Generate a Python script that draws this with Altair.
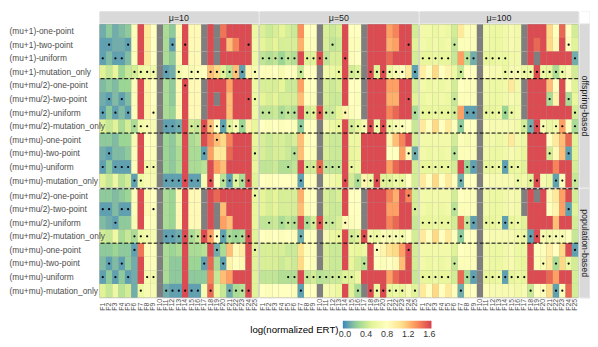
import altair as alt
import pandas as pd
import numpy as np

N = None
funcs = [f"F{i}" for i in range(1, 26)]
mu_labels = ["μ=10", "μ=50", "μ=100"]
facet_labels = ["offspring-based", "population-based"]
offspring_algs = [
    "(mu+1)-one-point", "(mu+1)-two-point", "(mu+1)-uniform", "(mu+1)-mutation_only",
    "(mu+mu/2)-one-point", "(mu+mu/2)-two-point", "(mu+mu/2)-uniform", "(mu+mu/2)-mutation_only",
    "(mu+mu)-one-point", "(mu+mu)-two-point", "(mu+mu)-uniform", "(mu+mu)-mutation_only",
]
population_algs = [
    "(mu+mu/2)-one-point", "(mu+mu/2)-two-point", "(mu+mu/2)-uniform", "(mu+mu/2)-mutation_only",
    "(mu+mu)-one-point", "(mu+mu)-two-point", "(mu+mu)-uniform", "(mu+mu)-mutation_only",
]

# log(normalized ERT); rows = offspring (12) then population (8); columns F1..F25; None = missing
ert_mu10 = [
    [0.1,0.2,0.1,0.15,0.2, 0.75,1.6,1.0,0.8,N, 0.3,0.2,0.85,1.6,0.85, 0.85,N,1.6,N,1.45, 1.6,1.6,1.6,1.6,0.6],
    [0.05,0.05,0.1,0.1,0.05, 0.75,1.6,1.0,0.8,N, 0.3,0.05,0.85,1.6,0.85, 0.85,N,1.6,N,1.6, 1.2,1.4,1.6,1.6,0.65],
    [0.05,0.15,0.05,0.05,0.15, 0.75,1.6,1.0,0.8,N, 0.3,0.2,0.85,1.6,0.85, 0.85,N,1.6,N,1.6, 1.6,1.6,1.6,1.6,0.6],
    [0.5,0.4,0.55,0.25,0.4, 0.45,0.6,0.65,0.65,N, 0.05,0.1,0.65,0.75,0.7, 0.75,0.8,1.2,1.1,0.5, 0.35,1.2,0.05,0.9,0.7],
    [0.15,0.2,0.15,0.25,0.25, 0.75,1.6,0.9,0.8,N, 0.3,0.2,0.85,1.6,0.85, 0.85,N,1.6,1.6,1.6, 1.3,1.6,1.6,1.6,0.6],
    [0.1,0.05,0.15,0.05,0.15, 0.75,1.6,0.9,0.8,N, 0.3,0.2,0.85,1.6,0.85, 0.85,N,1.6,N,1.6, 1.2,1.6,1.6,1.6,0.6],
    [0.05,0.2,0.05,0.15,0.05, 0.75,1.6,0.9,0.75,N, 0.3,0.25,0.85,1.6,0.85, 0.85,N,1.6,1.6,1.6, 1.2,1.6,1.6,1.6,0.6],
    [0.5,0.4,0.5,0.3,0.45, 0.3,0.65,0.7,0.7,N, 0.05,0.05,0.1,1.6,0.45, 0.4,1.6,1.2,0.8,0.05, 0.5,0.7,0.25,0.9,0.55],
    [0.2,0.2,0.15,0.25,0.25, 0.7,1.6,0.8,0.75,N, 0.25,0.2,0.35,1.6,0.3, 0.35,1.6,1.4,1.2,1.1, 1.4,1.6,1.6,1.6,0.55],
    [0.1,0.05,0.15,0.15,0.2, 0.75,1.6,0.8,0.75,N, 0.25,0.2,0.3,1.6,0.3, 0.3,0.05,1.3,1.0,1.0, 1.5,1.6,1.6,1.6,0.5],
    [0.05,0.2,0.05,0.05,0.05, 0.75,1.6,0.65,0.65,N, 0.25,0.2,0.3,1.6,0.3, 0.3,0.35,1.6,1.3,1.2, 1.6,1.6,1.6,1.6,0.55],
    [0.5,0.4,0.6,0.35,0.45, 0.05,0.6,0.7,0.7,N, 0.05,0.05,0.05,1.6,0.05, 0.05,0.7,1.6,0.8,0.35, 0.05,0.5,0.3,1.6,0.5],
    [0.2,0.2,0.15,0.2,0.25, 0.75,1.6,0.85,0.8,N, 0.3,0.25,0.85,1.6,0.85, 0.85,N,1.6,1.5,1.6, 1.6,1.6,1.6,1.6,0.55],
    [0.05,0.05,0.15,0.05,0.05, 0.75,1.6,0.85,0.75,N, 0.3,0.25,0.85,1.6,0.85, 0.85,N,1.6,N,1.2, 1.6,1.6,1.6,1.6,0.55],
    [0.15,0.1,0.05,0.2,0.2, 0.7,1.6,0.8,0.75,N, 0.3,0.25,0.85,1.6,0.85, 0.85,N,1.6,N,1.3, 1.2,1.6,1.6,1.6,0.55],
    [0.45,0.4,0.6,0.3,0.4, 0.3,0.6,0.65,0.7,N, 0.05,0.05,0.1,1.6,0.3, 0.4,1.6,1.3,0.8,0.05, 0.3,0.25,0.3,1.6,0.5],
    [0.2,0.2,0.25,0.2,0.2, 0.05,1.45,0.75,0.75,N, 0.3,0.25,0.3,1.6,0.3, 0.3,0.35,1.6,0.1,0.3, 1.2,0.85,0.95,1.6,0.5],
    [0.15,0.05,0.15,0.05,0.2, 0.1,1.6,0.75,0.75,N, 0.3,0.2,0.2,1.6,0.25, 0.25,0.05,1.5,0.3,0.05, 0.9,0.8,0.85,1.6,0.5],
    [0.05,0.2,0.05,0.2,0.05, 0.1,1.6,0.7,0.65,N, 0.3,0.2,0.2,1.6,0.2, 0.2,0.2,1.4,0.4,1.2, 1.3,1.6,1.6,1.6,0.5],
    [0.5,0.4,0.6,0.35,0.45, 0.1,0.6,0.7,0.7,N, 0.1,0.05,0.05,1.6,0.05, 0.05,0.7,1.5,0.6,0.4, 0.1,0.3,0.35,1.6,0.5],
]
dots_mu10 = [
    [], [2,5,12,14,24], [1,3,4], [6,7,8,9,11,13,15,16,18,19,20,21,22,23,25],
    [14], [2,4,24,25], [1,3,5,9], [6,7,8,11,12,13,15,16,17,18,19,20,21,22,23],
    [19], [2,17,25], [1,3,4,5,8,9], [6,7,11,12,13,14,15,16,18,20,21,22,23,24],
    [25], [1,2,4,5,9], [3], [6,7,8,11,12,13,14,15,16,17,18,19,20,21,22,23,24],
    [6,19,25], [2,4,17,20], [1,3,5,8,9], [7,11,12,13,14,15,16,18,21,22,23,24],
]

ert_mu50 = [
    [0.48,0.42,0.47,0.52,0.46, 0.42,1.35,0.8,0.8,N, 0.47,0.42,0.47,1.6,0.8, 0.8,N,1.6,1.6,1.6, 1.3,1.4,1.6,1.6,0.45],
    [0.52,0.47,0.52,0.46,0.47, 0.46,1.25,0.75,0.75,N, 0.47,0.38,0.42,1.6,0.75, 0.75,N,1.6,1.6,1.6, 1.25,1.3,1.6,1.6,0.5],
    [0.38,0.33,0.38,0.25,0.38, 0.33,1.6,0.5,0.5,1.6, 0.38,0.47,0.47,1.6,0.75, 0.8,N,1.6,1.6,1.6, 1.5,1.6,1.6,1.6,0.45],
    [0.75,0.75,0.8,0.7,0.8, 0.75,0.4,0.8,0.8,N, 0.65,0.6,0.55,1.6,0.45, 0.5,N,1.6,0.5,1.6, 0.6,0.7,0.8,1.0,0.05],
    [0.47,0.47,0.47,0.52,0.42, 0.42,1.3,0.8,0.8,N, 0.47,0.42,0.47,1.6,0.8, 0.8,N,1.6,1.6,1.6, 1.3,1.3,1.6,1.6,0.45],
    [0.52,0.47,0.52,0.46,0.47, 0.46,1.2,0.8,0.75,N, 0.47,0.42,0.42,1.6,0.8, 0.75,N,1.6,1.6,1.6, 1.25,1.25,1.6,1.6,0.5],
    [0.38,0.38,0.42,0.3,0.38, 0.33,1.6,0.45,0.5,1.6, 0.42,0.42,0.52,0.9,0.75, 0.8,N,1.6,1.6,1.6, 1.4,1.5,1.6,1.6,0.3],
    [0.8,0.75,0.8,0.75,0.8, 0.75,0.2,0.8,0.8,N, 0.7,0.6,0.55,1.6,0.45, 0.55,0.7,1.6,0.65,1.6, 0.6,0.7,0.75,0.8,0.4],
    [0.47,0.42,0.47,0.47,0.42, 0.47,1.2,0.75,0.8,N, 0.47,0.42,0.42,1.6,0.6, 0.6,1.6,1.6,1.6,1.6, 0.9,1.2,1.4,1.6,0.45],
    [0.47,0.42,0.47,0.47,0.42, 0.33,1.2,0.8,0.75,N, 0.47,0.42,0.42,1.6,0.55, 0.6,1.6,1.6,1.6,1.6, 0.8,0.8,1.3,0.85,0.1],
    [0.38,0.38,0.42,0.33,0.33, 0.38,1.6,0.45,0.45,1.5, 0.38,0.38,0.38,1.6,0.55, 0.6,1.6,1.6,1.6,1.6, 1.3,1.5,1.6,1.6,0.45],
    [0.8,0.75,0.8,0.8,0.8, 0.75,0.05,0.8,0.8,N, 0.7,0.65,0.6,1.6,0.45, 0.3,0.9,0.6,1.6,0.5, 0.5,0.6,0.55,0.8,0.45],
    [0.52,0.47,0.52,0.46,0.47, 0.46,1.25,0.8,0.8,N, 0.47,0.42,0.47,1.6,0.8, 0.8,N,1.6,1.6,1.6, 1.4,1.25,1.6,1.4,0.45],
    [0.52,0.47,0.52,0.46,0.47, 0.46,1.2,0.75,0.8,N, 0.47,0.42,0.42,1.6,0.8, 0.8,N,1.6,1.6,1.6, 1.3,1.3,1.6,1.6,0.45],
    [0.38,0.38,0.42,0.3,0.38, 0.33,1.6,0.3,0.45,1.6, 0.42,0.42,0.47,0.85,0.75, 0.8,N,1.6,1.6,1.6, 1.4,1.5,1.6,1.6,0.4],
    [0.8,0.75,0.8,0.75,0.8, 0.75,0.1,0.8,0.8,N, 0.7,0.6,0.55,1.6,0.45, 0.5,1.6,0.65,0.6,0.75, 0.7,0.7,0.65,0.8,0.45],
    [0.47,0.47,0.47,0.47,0.42, 0.42,1.05,0.75,0.75,N, 0.47,0.42,0.42,1.6,0.6, 0.55,0.6,1.6,0.8,0.9, 1.05,1.1,1.3,1.6,0.45],
    [0.47,0.47,0.47,0.42,0.47, 0.42,1.1,0.8,0.75,N, 0.47,0.42,0.42,1.6,0.55, 0.45,0.35,1.6,0.8,0.75, 0.8,0.85,1.2,1.6,0.45],
    [0.38,0.38,0.38,0.33,0.33, 0.33,1.6,0.4,0.45,0.35, 0.38,0.42,0.42,0.5,0.5, 0.6,1.6,1.6,1.6,1.6, 1.3,1.5,1.6,1.6,0.4],
    [0.8,0.75,0.8,0.8,0.8, 0.75,0.05,0.8,0.8,N, 0.7,0.65,0.6,1.6,0.5, 0.3,N,1.6,0.6,1.6, 0.55,0.6,0.55,0.7,0.5],
]
dots_mu50 = [
    [], [12,24], [1,2,3,4,5,6,8,9,10,11,14], [7,13,15,16,18,19,20,21,22,23,25],
    [], [24], [1,2,4,5,6,8,9,10,11,12,14,25], [7,13,15,16,17,18,19,20,21,22,23],
    [], [6,24,25], [5,8,9,10,11,12,13,15], [7,14,16,17,18,19,20,21,22,23],
    [24], [25], [2,4,5,6,8,9,10,11,12,14], [7,13,15,16,17,18,19,20,21,22,23],
    [19,24], [17], [5,6,8,9,10,11,12,13,14,15], [7,16,18,19,20,21,22,23,25],
]

ert_mu100 = [
    [0.65,0.65,0.6,0.65,0.6, 0.45,1.0,0.75,0.75,N, 0.65,0.6,0.6,0.65,0.7, 0.65,N,1.6,1.6,1.6, 1.1,0.8,1.5,0.8,0.45],
    [0.65,0.6,0.65,0.6,0.65, 0.4,0.75,0.75,0.75,N, 0.65,0.6,0.6,0.65,0.7, 0.65,N,1.6,1.5,1.6, 1.1,0.85,1.6,0.75,0.5],
    [0.55,0.55,0.6,0.55,0.55, 0.4,1.3,0.35,0.1,N, 0.55,0.55,0.6,0.6,0.65, 0.65,N,1.6,N,1.6, 1.6,1.6,1.6,1.6,0.1],
    [0.95,0.8,1.1,0.8,0.9, 0.6,0.4,0.8,0.8,N, 0.75,0.7,0.7,0.6,0.7, 0.7,0.6,0.6,1.6,0.6, 0.55,0.3,0.6,0.7,0.45],
    [0.65,0.6,0.65,0.6,0.65, 0.45,0.8,0.75,0.75,N, 0.65,0.6,0.6,0.65,1.0, 0.65,N,1.6,1.6,1.6, 1.2,0.8,1.6,0.8,0.5],
    [0.6,0.65,0.6,0.65,0.6, 0.4,0.75,0.75,0.75,N, 0.65,0.6,0.6,0.65,0.7, 0.65,N,1.6,1.6,1.6, 0.3,0.9,1.6,0.3,0.55],
    [0.55,0.55,0.6,0.55,0.55, 0.45,1.3,0.05,0.05,N, 0.55,0.55,0.6,0.25,0.6, 0.65,N,1.6,1.6,1.6, 1.6,1.6,1.6,1.6,0.45],
    [1.0,0.8,1.1,0.8,1.0, 0.75,0.2,0.8,0.8,N, 0.75,0.7,0.7,0.7,0.7, 0.65,0.45,0.1,1.6,0.7, 0.6,0.65,1.3,0.8,0.3],
    [0.65,0.65,0.65,0.65,0.65, 0.45,0.75,0.7,0.75,N, 0.65,0.65,0.6,0.65,1.0, 0.65,0.6,1.6,1.6,1.6, 0.8,1.0,1.2,1.5,0.5],
    [0.65,0.6,0.65,0.6,0.65, 0.35,0.75,0.75,0.75,N, 0.65,0.6,0.6,0.65,0.7, 0.65,0.55,1.6,1.6,1.6, 0.45,0.85,1.2,0.05,0.5],
    [0.55,0.55,0.6,0.55,0.55, 0.45,1.6,0.25,0.05,N, 0.55,0.55,0.6,0.05,0.55, 0.6,0.5,1.6,1.6,1.6, 1.6,1.4,1.6,1.6,0.45],
    [1.0,0.8,1.1,0.8,1.0, 0.75,0.1,0.8,0.8,N, 0.75,0.7,0.7,0.7,0.7, 0.6,0.65,0.5,1.6,0.7, 0.6,0.05,0.75,1.6,0.4],
    [0.65,0.65,0.65,0.65,0.65, 0.45,0.8,0.75,0.75,N, 0.65,0.6,0.6,0.65,0.7, 0.65,N,1.6,N,1.6, 0.85,1.0,1.3,1.6,0.45],
    [0.65,0.6,0.65,0.6,0.65, 0.35,0.75,0.75,0.75,N, 0.65,0.6,0.6,0.65,0.7, 0.65,N,1.6,1.6,1.6, 0.8,0.9,1.3,0.05,0.5],
    [0.55,0.55,0.6,0.55,0.55, 0.45,1.5,0.4,0.05,N, 0.55,0.55,0.6,0.05,0.55, 0.6,0.5,1.6,1.6,1.6, 1.6,1.2,1.6,1.6,0.45],
    [1.0,0.8,1.1,0.8,1.0, 0.75,0.2,0.8,0.8,N, 0.75,0.7,0.7,0.7,0.7, 0.65,0.6,0.05,1.6,0.7, 0.65,0.7,0.7,0.8,0.4],
    [0.65,0.65,0.65,0.65,0.65, 0.5,0.8,0.75,0.75,N, 0.65,0.6,0.6,0.65,0.7, 0.6,0.6,1.6,0.8,0.75, 0.95,0.8,1.1,1.6,0.05],
    [0.65,0.6,0.65,0.6,0.65, 0.4,0.75,0.75,0.75,N, 0.65,0.6,0.6,0.65,0.7, 0.6,0.55,1.6,0.75,0.7, 1.0,0.3,1.1,0.6,0.45],
    [0.55,0.55,0.6,0.55,0.55, 0.45,1.5,0.3,0.05,N, 0.55,0.55,0.6,0.05,0.55, 0.6,0.55,1.6,1.6,1.6, 1.5,1.3,1.6,1.6,0.45],
    [1.0,0.8,1.1,0.8,1.0, 0.75,0.1,0.75,0.8,N, 0.75,0.7,0.7,0.7,0.7, 0.65,0.7,0.4,0.8,0.75, 1.1,0.05,0.75,1.5,0.45],
]
dots_mu100 = [
    [], [6,24], [1,2,3,4,5,8,9,11,12,13,14,25], [7,14,15,16,17,18,19,20,21,22,23],
    [], [6,21,24], [1,2,3,4,5,6,8,9,11,12,13,14,15,25], [7,17,18,19,20,22,23,25],
    [], [6,21,24], [1,2,3,4,5,8,9,11,12,13,14,15,16], [7,16,18,19,22,23,25],
    [], [6,24], [1,2,3,4,5,8,9,11,12,13,14,15,16], [7,16,17,18,19,20,21,22,23],
    [25], [6,20,22,24], [1,2,3,4,5,8,9,11,12,13,14,15,16,17], [7,18,20,22,23],
]

all_values = [ert_mu10, ert_mu50, ert_mu100]
all_dots = [dots_mu10, dots_mu50, dots_mu100]

W = 161
STEP = 13.8
STRIP_H = 12
RSTRIP_W = 10
FONT = "Liberation Sans"

color_domain = [-0.04, 0.24, 0.52, 0.80, 1.08, 1.36, 1.64]
color_range = ["#3288bd", "#99d594", "#e6f598", "#ffffbf", "#fee08b", "#fc8d59", "#d53e4f"]
color_enc = alt.Color(
    "v:Q",
    scale=alt.Scale(domain=color_domain, range=color_range, clamp=True, interpolate="lab"),
    legend=alt.Legend(
        title="log(normalized ERT)", orient="none", direction="horizontal",
        legendX=153, legendY=314, titleOrient="left", titleAnchor="middle", gradientLength=90,
        gradientThickness=8, values=[0, 0.4, 0.8, 1.2, 1.6], format=".1f",
        titleFontSize=9.8, titleFontWeight="normal", titleColor="#000000",
        labelFontSize=9, labelColor="#333333", titleFont=FONT, labelFont=FONT,
        titlePadding=4, titleBaseline="top",
    ),
)


def build_df(values, dots, algs):
    recs = []
    for r, alg in enumerate(algs):
        for c, f in enumerate(funcs):
            v = values[r][c]
            recs.append({"alg": alg, "func": f, "v": np.nan if v is None else v,
                         "dot": 1 if (c + 1) in dots[r] else 0})
    return pd.DataFrame(recs)


def panel(df, algs, show_y, show_x, rule_algs):
    xaxis = alt.Axis(title=None, labelAngle=270, labelAlign="left", labelBaseline="middle",
                     labelPadding=13, ticks=False, tickSize=0, domain=False,
                     labelFontSize=7, labelColor="#4d4d4d", labelFont=FONT) if show_x else None
    yaxis = alt.Axis(title=None, labelAlign="left", labelPadding=92, ticks=False, tickSize=0,
                     domain=False, labelFontSize=8.5, labelColor="#4d4d4d", labelFont=FONT) if show_y else None
    x = alt.X("func:N", sort=funcs, scale=alt.Scale(domain=funcs, paddingInner=0, paddingOuter=0), axis=xaxis)
    y = alt.Y("alg:N", sort=algs, scale=alt.Scale(domain=algs, paddingInner=0, paddingOuter=0), axis=yaxis)
    base = alt.Chart(df)
    gray = base.mark_rect(color="#7f7f7f", strokeWidth=0).encode(x=x, y=y)
    col = base.transform_filter("isValid(datum.v)").mark_rect(strokeWidth=0).encode(x=x, y=y, color=color_enc)
    pts = base.transform_filter("datum.dot == 1").mark_circle(color="black", size=5, opacity=1).encode(x=x, y=y)
    rules = alt.Chart(pd.DataFrame({"alg": rule_algs})).mark_rule(
        color="black", strokeDash=[4, 2], strokeWidth=1
    ).encode(y=alt.Y("alg:N", sort=algs, scale=alt.Scale(domain=algs, paddingInner=0, paddingOuter=0),
                     bandPosition=0, axis=yaxis))
    return alt.layer(gray, col, pts, rules).properties(width=W, height=STEP * len(algs))


def top_strip(label):
    d = pd.DataFrame({"label": [label]})
    r = alt.Chart(d).mark_rect(color="#d9d9d9").encode(
        x=alt.value(0), x2=alt.value(W), y=alt.value(0), y2=alt.value(STRIP_H))
    t = alt.Chart(d).mark_text(fontSize=9, color="#1a1a1a", font=FONT, baseline="middle").encode(
        text="label:N", x=alt.value(W / 2), y=alt.value(STRIP_H / 2 + 0.5))
    return alt.layer(r, t).properties(width=W, height=STRIP_H)


def right_strip(label, h):
    d = pd.DataFrame({"label": [label]})
    r = alt.Chart(d).mark_rect(color="#d9d9d9").encode(
        x=alt.value(0), x2=alt.value(RSTRIP_W), y=alt.value(0), y2=alt.value(h))
    t = alt.Chart(d).mark_text(fontSize=9, color="#1a1a1a", font=FONT, angle=90, baseline="middle").encode(
        text="label:N", x=alt.value(5), y=alt.value(h / 2))
    return alt.layer(r, t).properties(width=RSTRIP_W, height=h)


blank = alt.Chart(pd.DataFrame({"label": [""]})).mark_rect(color="#ffffff").encode(
    x=alt.value(0), x2=alt.value(RSTRIP_W), y=alt.value(0), y2=alt.value(STRIP_H)
).properties(width=RSTRIP_W, height=STRIP_H)

cells = [top_strip(m) for m in mu_labels] + [blank]
for fi, (algs, lo, hi, rule_algs) in enumerate([
    (offspring_algs, 0, 12, ["(mu+mu/2)-one-point", "(mu+mu)-one-point"]),
    (population_algs, 12, 20, ["(mu+mu/2)-one-point", "(mu+mu)-one-point"]),
]):
    for mi in range(3):
        df = build_df(all_values[mi][lo:hi], all_dots[mi][lo:hi], algs)
        cells.append(panel(df, algs, show_y=(mi == 0), show_x=(fi == 1), rule_algs=rule_algs))
    cells.append(right_strip(facet_labels[fi], STEP * len(algs)))

chart = alt.concat(
    *cells, columns=4, spacing={"row": 1, "column": 1.5}, bounds="flush", align="each",
    padding={"left": 0, "top": 0, "right": 0, "bottom": 0},
).configure_view(stroke=None).configure(font=FONT)

chart.save("out.html", embed_options={"renderer": "svg", "actions": False})
